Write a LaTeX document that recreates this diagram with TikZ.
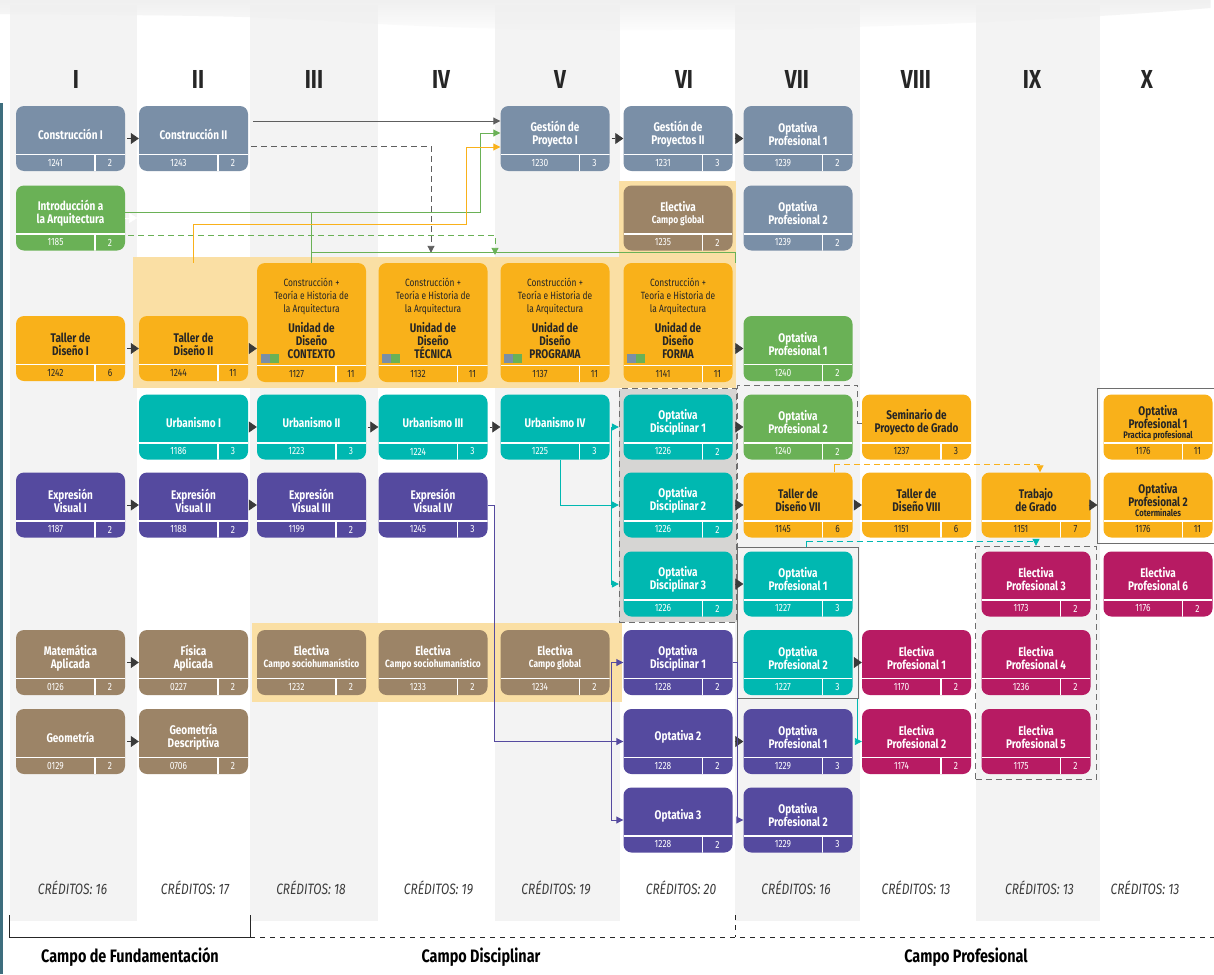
\documentclass[tikz,border=0pt]{standalone}
\usepackage{fontspec}
\setmainfont{Fira Sans}[FakeStretch=0.8]
\usetikzlibrary{arrows.meta, fit, backgrounds, fadings}

\definecolor{pizarra}{HTML}{7A8FA7}
\definecolor{verde}{HTML}{6AB156}
\definecolor{naranja}{HTML}{F9B11A}
\definecolor{naranjaclaro}{HTML}{FADFA4}
\definecolor{turquesa}{HTML}{00B8B1}
\definecolor{morado}{HTML}{554A9F}
\definecolor{cafe}{HTML}{9C8467}
\definecolor{fucsia}{HTML}{B71B63}
\definecolor{franja}{HTML}{F3F3F3}
\definecolor{grisgrupo}{HTML}{D6D5D3}
\definecolor{borde}{HTML}{6E6E6E}
\definecolor{flecha}{HTML}{3A3A3A}
\definecolor{oscuro}{HTML}{262626}
\definecolor{barra}{HTML}{3E6E7E}
\definecolor{grislinea}{HTML}{5E5E5E}

% caja de asignatura: nombre, posicion, estilo, titulo, codigo, creditos
\newcommand{\materia}[7][white]{%
  \node[#4] (#2) at (#3) {};
  \node[titulo, text=#1] (#2t) at ([yshift=4.5pt]#2.center) {#5};
  \node[pie, text=#1] (#2c) at ([xshift=-15pt,yshift=8.25pt]#2.south) {#6};
  \node[pie, text=#1] (#2n) at ([xshift=39.5pt,yshift=8.25pt]#2.south) {#7};}
\newcommand{\rotulo}[1]{{\fontsize{10.5}{12}\selectfont #1}}
\newcommand{\nota}[1]{{\fontsize{9.5}{10}\selectfont #1}}
\newcommand{\chico}[1]{{\fontsize{10.5}{13}\selectfont\mdseries #1}}
\newcommand{\unidadtxt}[1]{\chico{Construcción +}\\ \chico{Teoría e Historia de}\\ \chico{la Arquitectura}\\[7pt] Unidad de\\ Diseño\\ #1}

\begin{document}
\begin{tikzpicture}[x=1pt, y=-1pt,
  caja/.style={rounded corners=8pt, fill=#1, minimum width=109pt, minimum height=65pt, inner sep=0pt,
    path picture={\draw[white, line width=1.2pt, sharp corners]
      ([yshift=16.5pt]path picture bounding box.south west) -- ([yshift=16.5pt]path picture bounding box.south east)
      ([xshift=-30pt]path picture bounding box.south east) -- ([xshift=-30pt,yshift=16.5pt]path picture bounding box.south east);}},
  unidad/.style={caja=naranja, minimum height=119pt},
  titulo/.style={font=\fontsize{12.5}{13}\selectfont\bfseries, align=center, inner sep=0pt},
  pie/.style={font=\fontsize{10.5}{11}\selectfont, inner sep=0pt},
  linea/.style={draw=#1, line width=0.9pt},
  conector/.style={linea=#1, -{Triangle[length=7pt,width=7pt]}},
  avance/.style={draw=flecha, line width=0.6pt, shorten <=2pt, -{Triangle[length=8pt,width=11pt]}},
  rayas/.style={dash pattern=on 6pt off 4pt},
  grupo/.style={draw=borde, line width=0.9pt, inner sep=0pt},
  romano/.style={font=\fontsize{26}{26}\selectfont\bfseries, text=oscuro},
  creditos/.style={font=\fontsize{15}{15}\selectfont\itshape, text=oscuro!90},
  campo/.style={font=\fontsize{18}{18}\selectfont\bfseries, text=black}]

  \useasboundingbox (0,0) rectangle (1214,974);

  % fondo: franjas de semestre y bandas
  \begin{scope}[on background layer]
    \fill[white] (0,0) rectangle (1214,974);
    \foreach \a/\b in {10/137, 250/378, 495/620, 735/860, 976/1100}
      \fill[franja] (\a,5) rectangle (\b,921);
    \fill[black!6, path fading=south] (0,0) -- (1214,0) -- (1214,8)
      .. controls (950,30) and (600,36) .. (380,24) .. controls (250,16) .. (0,14) -- cycle;
    \fill[naranjaclaro] (133,257) rectangle (736,388);
    \fill[naranjaclaro] (619,181) rectangle (736,257);
    \fill[naranjaclaro] (252,623) rectangle (622,702);
    \fill[barra] (0,103) rectangle (3,974);
  \end{scope}

  \foreach \x/\r in {76/I, 198/II, 314/III, 441/IV, 560/V, 684/VI, 797/VII, 916/VIII, 1032/IX, 1147/X}
    \node[romano] (sem\r) at (\x,79) {\r};

  % semestre I
  \materia{c1}{70.5,138.5}{caja=pizarra}{Construcción I}{1241}{2}
  \materia{in}{70.5,218}{caja=verde}{Introducción a\\ la Arquitectura}{1185}{2}
  \materia[oscuro]{t1}{70.5,348.5}{caja=naranja}{Taller de\\ Diseño I}{1242}{6}
  \materia{ev1}{70.5,505}{caja=morado}{Expresión\\ Visual I}{1187}{2}
  \materia{ma}{70.5,662.5}{caja=cafe}{Matemática\\ Aplicada}{0126}{2}
  \materia{ge}{70.5,741.5}{caja=cafe}{Geometría}{0129}{2}
  % semestre II
  \materia{c2}{193.5,138.5}{caja=pizarra}{Construcción II}{1243}{2}
  \materia[oscuro]{t2}{193.5,348.5}{caja=naranja}{Taller de\\ Diseño II}{1244}{11}
  \materia{ub1}{193.5,427}{caja=turquesa}{Urbanismo I}{1186}{3}
  \materia{ev2}{193.5,505}{caja=morado}{Expresión\\ Visual II}{1188}{2}
  \materia{fi}{193.5,662.5}{caja=cafe}{Física\\ Aplicada}{0227}{2}
  \materia{gd}{193.5,741.5}{caja=cafe}{Geometría\\ Descriptiva}{0706}{2}
  % semestre III
  \materia[oscuro]{u3}{311.5,322.5}{unidad}{\unidadtxt{CONTEXTO}}{1127}{11}
  \materia{ub2}{311.5,427}{caja=turquesa}{Urbanismo II}{1223}{3}
  \materia{ev3}{311.5,505}{caja=morado}{Expresión\\ Visual III}{1199}{2}
  \materia{el3}{311.5,662.5}{caja=cafe}{Electiva\\[-1pt] \rotulo{Campo sociohumanístico}}{1232}{2}
  % semestre IV
  \materia[oscuro]{u4}{433,322.5}{unidad}{\unidadtxt{TÉCNICA}}{1132}{11}
  \materia{ub3}{433,427}{caja=turquesa}{Urbanismo III}{1224}{3}
  \materia{ev4}{433,505}{caja=morado}{Expresión\\ Visual IV}{1245}{3}
  \materia{el4}{433,662.5}{caja=cafe}{Electiva\\[-1pt] \rotulo{Campo sociohumanístico}}{1233}{2}
  % semestre V
  \materia{g1}{555,138.5}{caja=pizarra}{Gestión de\\ Proyecto I}{1230}{3}
  \materia[oscuro]{u5}{555,322.5}{unidad}{\unidadtxt{PROGRAMA}}{1137}{11}
  \materia{ub4}{555,427}{caja=turquesa}{Urbanismo IV}{1225}{3}
  \materia{el5}{555,662.5}{caja=cafe}{Electiva\\[-1pt] \rotulo{Campo global}}{1234}{2}
  % semestre VI
  \materia{g2}{678,138.5}{caja=pizarra}{Gestión de\\ Proyectos II}{1231}{3}
  \materia{el6}{678,218}{caja=cafe}{Electiva\\[-1pt] \rotulo{Campo global}}{1235}{2}
  \materia[oscuro]{u6}{678,322.5}{unidad}{\unidadtxt{FORMA}}{1141}{11}
  \materia{od1}{678,427}{caja=turquesa}{Optativa\\ Disciplinar 1}{1226}{2}
  \materia{od2}{678,505}{caja=turquesa}{Optativa\\ Disciplinar 2}{1226}{2}
  \materia{od3}{678,584}{caja=turquesa}{Optativa\\ Disciplinar 3}{1226}{2}
  \materia{odm}{678,662.5}{caja=morado}{Optativa\\ Disciplinar 1}{1228}{2}
  \materia{o2}{678,741.5}{caja=morado}{Optativa 2}{1228}{2}
  \materia{o3}{678,820}{caja=morado}{Optativa 3}{1228}{2}
  % semestre VII
  \materia{pa1}{798,138.5}{caja=pizarra}{Optativa\\ Profesional 1}{1239}{2}
  \materia{pa2}{798,218}{caja=pizarra}{Optativa\\ Profesional 2}{1239}{2}
  \materia{pv1}{798,348.5}{caja=verde}{Optativa\\ Profesional 1}{1240}{2}
  \materia{pv2}{798,427}{caja=verde}{Optativa\\ Profesional 2}{1240}{2}
  \materia[oscuro]{t7}{798,505}{caja=naranja}{Taller de\\ Diseño VII}{1145}{6}
  \materia{pt1}{798,584}{caja=turquesa}{Optativa\\ Profesional 1}{1227}{3}
  \materia{pt2}{798,662.5}{caja=turquesa}{Optativa\\ Profesional 2}{1227}{3}
  \materia{pm1}{798,741.5}{caja=morado}{Optativa\\ Profesional 1}{1229}{3}
  \materia{pm2}{798,820}{caja=morado}{Optativa\\ Profesional 2}{1229}{3}
  % semestre VIII
  \materia[oscuro]{se}{916.5,427}{caja=naranja}{Seminario de\\ Proyecto de Grado}{1237}{3}
  \materia[oscuro]{t8}{916.5,505}{caja=naranja}{Taller de\\ Diseño VIII}{1151}{6}
  \materia{ep1}{916.5,662.5}{caja=fucsia}{Electiva\\ Profesional 1}{1170}{2}
  \materia{ep2}{916.5,741.5}{caja=fucsia}{Electiva\\ Profesional 2}{1174}{2}
  % semestre IX
  \materia[oscuro]{tg}{1036,505}{caja=naranja}{Trabajo\\ de Grado}{1151}{7}
  \materia{ep3}{1036,584}{caja=fucsia}{Electiva\\ Profesional 3}{1173}{2}
  \materia{ep4}{1036,662.5}{caja=fucsia}{Electiva\\ Profesional 4}{1236}{2}
  \materia{ep5}{1036,741.5}{caja=fucsia}{Electiva\\ Profesional 5}{1175}{2}
  % semestre X
  \materia[oscuro]{px1}{1158,427}{caja=naranja}{Optativa\\ Profesional 1\\[-3pt] \nota{Practica profesional}}{1176}{11}
  \materia[oscuro]{px2}{1158,505}{caja=naranja}{Optativa\\ Profesional 2\\[-3pt] \nota{Coterminales}}{1176}{11}
  \materia{ep6}{1158,584}{caja=fucsia}{Electiva\\ Profesional 6}{1176}{2}

  \foreach \k in {u3,u4,u5,u6} {
    \fill[pizarra] ([xshift=4pt,yshift=19pt]\k.south west) rectangle +(9pt,9pt);
    \fill[verde] ([xshift=13pt,yshift=19pt]\k.south west) rectangle +(9pt,9pt);}

  % grupos
  \begin{scope}[on background layer]
    \node[grupo, rayas, fill=grisgrupo, inner xsep=4pt, inner ysep=5.5pt, fit=(od1)(od3)] (gdis) {};
    \node[grupo, inner xsep=5.5pt, inner ysep=3.5pt, fit=(pt1)(pt2)] (gpro) {};
    \node[grupo, rayas, inner xsep=5.5pt, inner ysep=5pt, fit=(ep3)(ep5)] (gele) {};
    \node[grupo, inner sep=5.5pt, fit=(px1)(px2)] (gopx) {};
  \end{scope}
  \draw[grupo, rayas] ([yshift=4pt]se.west) -- ++(-4,0) -- ++(0,-38) -| (gpro.north west);

  % requisitos
  \foreach \a/\b in {c1/c2, t1/t2, g1/g2, g2/pa1, ub1/ub2, ub2/ub3, ub3/ub4, ev1/ev2, ev2/ev3,
                     t7/t8, ma/fi, ge/gd, o2/pm1}
    \draw[avance] (\a) -- (\b);
  \draw[avance] (t2.east) -- (t2.east -| u3.west);
  \draw[avance] (u6.east |- pv1.west) -- (pv1.west);
  \foreach \m in {pv2,t7,pt1}
    \draw[avance] (gdis.east |- \m.west) -- (\m.west);
  \draw[avance] (tg.east) -- (tg.east -| gopx.west);
  \draw[avance] (gpro.east |- ep1.west) -- (ep1.west);
  \draw[white, -{Triangle[length=8pt,width=10pt]}] (in.east) -- ([xshift=12pt]in.east);

  \draw[conector=grislinea] ([xshift=5pt,yshift=17.5pt]c2.east) -- ([yshift=17.5pt]g1.west);
  \draw[conector=grislinea, rayas] ([xshift=3pt,yshift=-7.5pt]c2.east) -| ([xshift=-2pt,yshift=10pt]u4.north);

  \coordinate (vin) at ([yshift=6pt]in.east);
  \coordinate (vb) at ([yshift=10pt]u3.north);
  \draw[conector=verde] (vin) -| ([xshift=-20pt,yshift=5.5pt]g1.west) -- ([yshift=5.5pt]g1.west);
  \draw[linea=verde] (vin -| u3.north) -- (u3.north);
  \draw[linea=verde] (vb) -| ([xshift=3pt]u6.north east);
  \draw[conector=verde, rayas] ([xshift=3pt,yshift=-17pt]in.east) -| ([xshift=-60pt,yshift=8pt]u5.north);
  \draw[conector=naranja] ([yshift=53pt]t2.north) -- ++(0,-38)
    -| ([xshift=-34pt,yshift=-8.5pt]g1.west) -- ([yshift=-8.5pt]g1.west);

  \draw[linea=naranja] ([xshift=36pt]t7.north) -- ++(0,-8);
  \draw[conector=naranja, rayas] ([xshift=36pt,yshift=8pt]t7.north) -| ([xshift=4pt]tg.north);
  \draw[linea=turquesa] ([xshift=8.5pt]gpro.north) -- ++(0,-6);
  \draw[conector=turquesa, rayas] ([xshift=8.5pt,yshift=6pt]gpro.north) -| (gele.north);

  \coordinate (rt) at ([xshift=-12pt]od2.west);
  \draw[linea=turquesa] ([xshift=5pt]ub4.south) |- (rt);
  \draw[linea=turquesa] (rt |- od1.west) -- (rt |- od3.west);
  \foreach \m in {od1,od2,od3}
    \draw[conector=turquesa] (rt |- \m.west) -- (gdis.west |- \m.west);

  \coordinate (rm) at ([xshift=-12pt]o2.west);
  \draw[linea=morado] (ev4.east) -- ++(7,0) |- (rm);
  \draw[linea=morado] (rm |- odm.west) -- (rm |- o3.west);
  \foreach \m in {odm,o2,o3}
    \draw[conector=morado] (rm |- \m.west) -- (\m.west);
  \draw[conector=morado] (odm.east) -- ++(5,0) |- (pm2.west);
  \draw[conector=turquesa] ([xshift=-1.5pt]gpro.south east) |- (ep2.west);

  % creditos y campos
  \foreach \x/\c [count=\i] in {72.5/16, 195/17, 311/18, 438.5/19, 556/19, 681/20, 796/16, 916/13, 1039.5/13, 1145/13}
    \node[creditos] (cr\i) at (\x,888) {CRÉDITOS: \c};

  \draw[line width=0.8pt, draw=oscuro] (9,915) -- (9,937) -- (250,937) -- (250,915);
  \draw[line width=0.8pt, draw=oscuro, dash pattern=on 5pt off 5pt] (250,937) -- (1214,937) (735,915) -- (735,937);
  \node[campo] (cf) at (130,957) {Campo de Fundamentación};
  \node[campo] (cd) at (481,957) {Campo Disciplinar};
  \node[campo] (cp) at (966,957) {Campo Profesional};
\end{tikzpicture}
\end{document}
